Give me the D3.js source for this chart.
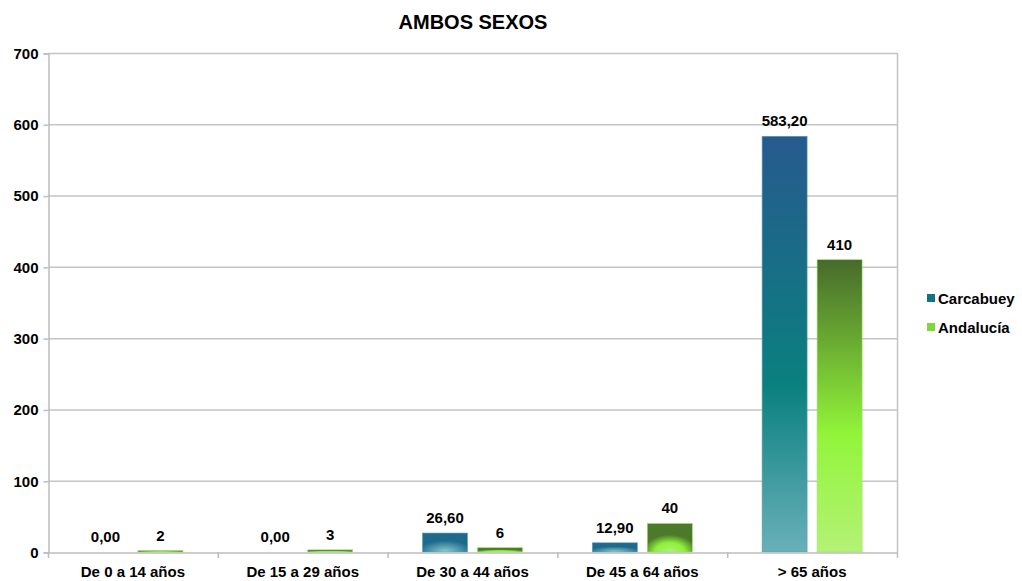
<!DOCTYPE html>
<html>
<head>
<meta charset="utf-8">
<script src="https://cdn.jsdelivr.net/npm/d3@7/dist/d3.min.js"></script>
<style>
  html, body { margin: 0; padding: 0; background: #fff; }
  text { font-family: "Liberation Sans", Arial, sans-serif; font-weight: bold; fill: #000; }
</style>
</head>
<body>
<svg id="chart" width="1022" height="581"></svg>
<script>
// Tasa por grupo de edad, ambos sexos
const categories = ["De 0 a 14 años", "De 15 a 29 años", "De 30 a 44 años", "De 45 a 64 años", "> 65 años"];
const carcabuey = [0.00, 0.00, 26.60, 12.90, 583.20];
const andalucia = [2, 3, 6, 40, 410];
const seriesNames = ["Carcabuey", "Andalucía"];
const yTicks = [0, 100, 200, 300, 400, 500, 600, 700];

const svg = d3.select("#chart");
const W = 1022, H = 581;
const margin = { left: 48, right: W - 897, top: 53, bottom: H - 552 };
const FONT = "Liberation Sans, Arial, sans-serif";

const x = d3.scaleBand().domain(categories).range([margin.left, W - margin.right]);
const y = d3.scaleLinear().domain([0, 700]).range([H - margin.bottom, margin.top]);

// gradients
const defs = svg.append("defs");
const g1 = defs.append("linearGradient").attr("id", "gCar").attr("x1", 0).attr("y1", 0).attr("x2", 0).attr("y2", 1);
g1.append("stop").attr("offset", "0%").attr("stop-color", "#275a8e");
g1.append("stop").attr("offset", "60%").attr("stop-color", "#0a807f");
g1.append("stop").attr("offset", "100%").attr("stop-color", "#69b0b9");
const g2 = defs.append("linearGradient").attr("id", "gAnd").attr("x1", 0).attr("y1", 0).attr("x2", 0).attr("y2", 1);
g2.append("stop").attr("offset", "0%").attr("stop-color", "#476a2b");
g2.append("stop").attr("offset", "60%").attr("stop-color", "#92f53a");
g2.append("stop").attr("offset", "100%").attr("stop-color", "#b4f276");
// short bars show a glow in the centre
const r1 = defs.append("radialGradient").attr("id", "rCar").attr("cx", "50%").attr("cy", "100%").attr("r", "60%");
r1.append("stop").attr("offset", "0%").attr("stop-color", "#8fcfd2");
r1.append("stop").attr("offset", "100%").attr("stop-color", "#1f6a8c");
const r2 = defs.append("radialGradient").attr("id", "rAnd").attr("cx", "50%").attr("cy", "100%").attr("r", "60%");
r2.append("stop").attr("offset", "0%").attr("stop-color", "#a8f57a");
r2.append("stop").attr("offset", "55%").attr("stop-color", "#8ef03a");
r2.append("stop").attr("offset", "100%").attr("stop-color", "#4d7a2a");

// gridlines
svg.append("g").selectAll("line").data(yTicks.filter(d => d > 0)).join("line")
  .attr("x1", margin.left).attr("x2", W - margin.right)
  .attr("y1", d => y(d) + 0.5).attr("y2", d => y(d) + 0.5)
  .attr("stroke", "#c4c4c4").attr("stroke-width", 1.5);

// right border
svg.append("line").attr("x1", W - margin.right + 0.5).attr("x2", W - margin.right + 0.5)
  .attr("y1", margin.top).attr("y2", H - margin.bottom)
  .attr("stroke", "#c4c4c4").attr("stroke-width", 1.5);

// y axis
const yAxis = d3.axisLeft(y).tickValues(yTicks).tickSize(5).tickPadding(5).tickFormat(d3.format("d"));
const ya = svg.append("g").attr("transform", `translate(${margin.left + 0.5},0.5)`).call(yAxis);
ya.select(".domain").attr("stroke", "#bdbdbd").attr("stroke-width", 1.5);
ya.selectAll(".tick line").attr("stroke", "#bdbdbd").attr("stroke-width", 1.5);
ya.selectAll("text").style("font-size", "15px").style("font-family", FONT).style("font-weight", "bold").attr("fill", "#000");

// bars
const bw = 45, gap = 10;
const groups = svg.append("g");
categories.forEach((c, i) => {
  const cx = x(c) + x.bandwidth() / 2;
  const vals = [carcabuey[i], andalucia[i]];
  vals.forEach((v, s) => {
    const x0 = s === 0 ? cx - gap / 2 - bw : cx + gap / 2;
    const h = y(0) - y(v);
    const tall = h > 60;
    const fill = s === 0 ? (tall ? "url(#gCar)" : "url(#rCar)") : (tall ? "url(#gAnd)" : "url(#rAnd)");
    if (h > 0) {
      groups.append("rect").attr("x", x0).attr("y", y(v)).attr("width", bw).attr("height", h)
        .attr("fill", fill)
        .attr("stroke", s === 0 ? "#5e9fb0" : "#9fe06a").attr("stroke-width", 0.6);
    }
    groups.append("text")
      .attr("x", x0 + bw / 2).attr("y", y(v) - 10)
      .attr("text-anchor", "middle").style("font-size", "15px")
      .text(s === 0 ? d3.format(".2f")(v).replace(".", ",") : d3.format("d")(v));
  });
});

// x axis
const xAxis = d3.axisBottom(x).tickSize(0).tickPadding(14);
const xa = svg.append("g").attr("transform", `translate(0,${y(0) + 0.5})`).call(xAxis);
xa.select(".domain").attr("stroke", "#bdbdbd").attr("stroke-width", 1.5);
xa.selectAll("text").style("font-size", "15px").style("font-family", FONT).style("font-weight", "bold").attr("fill", "#000");
// category separators
svg.append("g").selectAll("line").data(d3.range(categories.length + 1)).join("line")
  .attr("x1", i => margin.left + i * x.bandwidth() + 0.5).attr("x2", i => margin.left + i * x.bandwidth() + 0.5)
  .attr("y1", y(0)).attr("y2", y(0) + 6)
  .attr("stroke", "#bdbdbd").attr("stroke-width", 1.5);

// title
svg.append("text").attr("x", 473).attr("y", 29).attr("text-anchor", "middle")
  .style("font-size", "20px").text("AMBOS SEXOS");

// legend
const legend = svg.append("g");
const legendFill = ["#13728a", "#7fd83a"];
seriesNames.forEach((n, i) => {
  const ly = 298 + i * 29;
  legend.append("rect").attr("x", 927).attr("y", ly - 4).attr("width", 8).attr("height", 8).attr("fill", legendFill[i]);
  legend.append("text").attr("x", 938).attr("y", ly + 5.5).style("font-size", "15px").text(n);
});
</script>
</body>
</html>
